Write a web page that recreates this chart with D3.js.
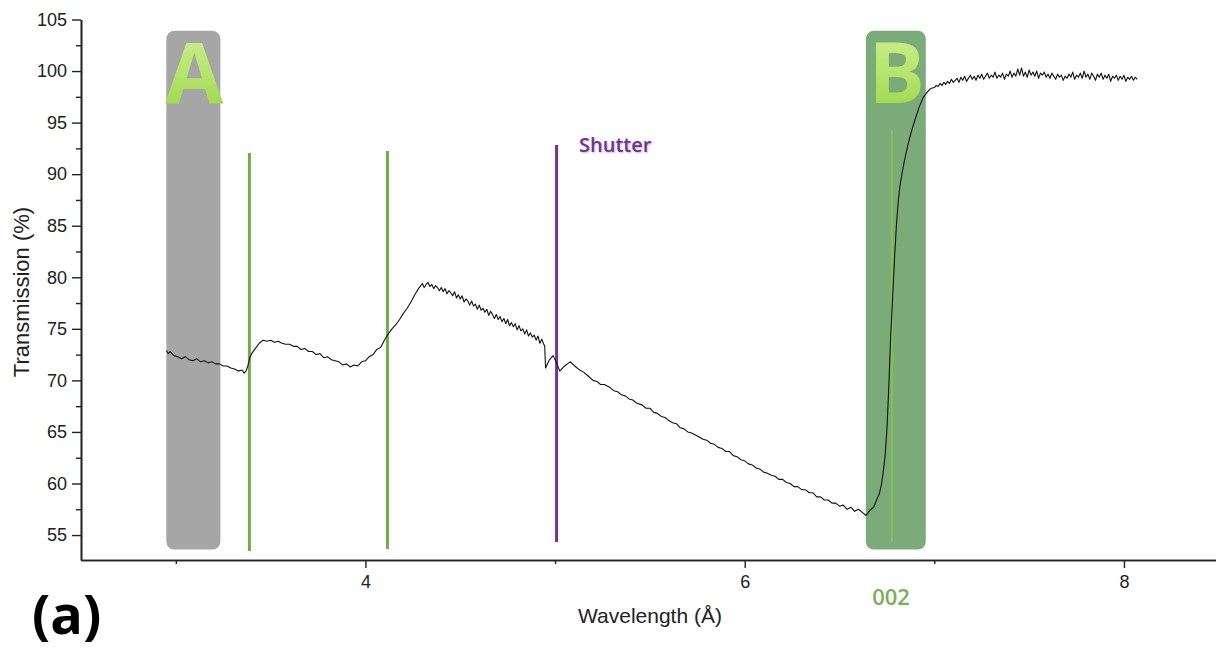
<!DOCTYPE html>
<html>
<head>
<meta charset="utf-8">
<script src="https://cdn.jsdelivr.net/npm/d3@7"></script>
<style>
  body { margin: 0; background: #fff; }
  text { font-family: "Liberation Sans", Arial, sans-serif; }
</style>
</head>
<body>
<div id="chart"></div>
<script>
// transmission spectrum, [wavelength (Å), transmission (%)]
var spectrum = [
  [2.95,72.9],[2.96,72.6],[2.97,72.8],[2.99,72.4],[3.01,72.3],[3.03,72.1],[3.05,72.3],[3.07,72.0],
  [3.09,71.9],[3.11,72.1],[3.13,71.8],[3.15,71.9],[3.17,71.7],[3.19,71.8],[3.21,71.6],[3.23,71.6],
  [3.25,71.4],[3.27,71.4],[3.29,71.2],[3.31,71.1],[3.33,70.9],[3.35,71.0],[3.36,70.7],[3.37,70.9],
  [3.38,71.4],[3.39,72.2],[3.40,72.6],[3.42,73.1],[3.44,73.6],[3.46,73.9],[3.48,73.8],[3.50,73.9],
  [3.52,73.7],[3.54,73.8],[3.56,73.6],[3.58,73.5],[3.60,73.5],[3.62,73.3],[3.64,73.3],[3.66,73.0],
  [3.68,73.1],[3.70,72.8],[3.72,72.8],[3.74,72.5],[3.76,72.6],[3.78,72.2],[3.80,72.3],[3.82,72.0],
  [3.84,71.9],[3.86,71.8],[3.88,71.5],[3.90,71.6],[3.92,71.3],[3.94,71.5],[3.96,71.4],[3.98,71.8],
  [4.00,71.9],[4.02,72.3],[4.04,72.5],[4.06,73.0],[4.08,73.2],[4.10,73.9],[4.12,74.5],[4.14,75.0],
  [4.16,75.4],[4.18,75.9],[4.20,76.5],[4.22,77.0],[4.24,77.6],[4.26,78.3],[4.28,78.9],
  [4.30,79.4],[4.31,79.0],[4.32,79.3],[4.33,79.5],[4.34,79.1],[4.35,79.3],[4.36,78.9],[4.37,79.2],
  [4.38,79.0],[4.39,78.7],[4.40,79.0],[4.41,78.6],[4.42,78.9],[4.43,78.4],[4.44,78.7],[4.45,78.5],
  [4.46,78.2],[4.47,78.6],[4.48,78.0],[4.49,78.3],[4.50,77.9],[4.51,78.2],[4.52,77.6],[4.53,77.9],
  [4.54,77.7],[4.55,77.3],[4.56,77.7],[4.57,77.2],[4.58,77.4],[4.59,76.9],[4.60,77.3],[4.61,76.8],
  [4.62,77.0],[4.63,76.6],[4.64,76.9],[4.65,76.3],[4.66,76.7],[4.67,76.4],[4.68,76.0],[4.69,76.4],
  [4.70,75.9],[4.71,76.2],[4.72,75.7],[4.73,76.0],[4.74,75.5],[4.75,75.9],[4.76,75.3],[4.77,75.6],
  [4.78,75.2],[4.79,75.5],[4.80,74.9],[4.81,75.3],[4.82,74.8],[4.83,75.0],[4.84,74.5],[4.85,74.9],
  [4.86,74.3],[4.87,74.6],[4.88,74.2],[4.89,74.4],[4.90,73.9],[4.91,74.3],[4.92,73.6],[4.93,74.0],
  [4.94,73.5],[4.945,73.4],[4.95,71.2],[4.97,72.0],[4.99,72.4],[5.01,71.6],[5.025,70.9],[5.05,71.4],
  [5.08,71.8],[5.11,71.3],[5.13,71.0],[5.15,70.8],[5.17,70.5],[5.20,70.0],[5.22,69.9],[5.24,69.6],
  [5.26,69.6],[5.29,69.3],[5.31,69.0],[5.33,68.9],[5.35,68.6],[5.37,68.5],[5.39,68.2],[5.41,68.1],
  [5.43,67.8],[5.46,67.6],[5.48,67.3],[5.50,67.3],[5.52,66.9],[5.54,66.8],[5.56,66.5],[5.58,66.4],
  [5.60,66.1],[5.62,65.9],[5.64,65.8],[5.66,65.4],[5.68,65.3],[5.70,65.0],[5.72,64.9],[5.74,64.7],
  [5.76,64.5],[5.78,64.3],[5.80,64.2],[5.82,63.9],[5.84,63.8],[5.86,63.5],[5.88,63.4],[5.90,63.1],
  [5.92,63.1],[5.94,62.7],[5.96,62.6],[5.98,62.3],[6.00,62.2],[6.02,61.9],[6.04,61.8],[6.06,61.5],
  [6.08,61.4],[6.10,61.1],[6.12,61.0],[6.14,60.8],[6.16,60.7],[6.18,60.4],[6.20,60.4],[6.22,60.1],
  [6.24,60.0],[6.26,59.7],[6.28,59.7],[6.30,59.4],[6.32,59.4],[6.34,59.1],[6.36,59.1],[6.38,58.7],
  [6.40,58.7],[6.42,58.4],[6.44,58.4],[6.46,58.1],[6.48,58.1],[6.50,57.8],[6.52,57.9],[6.54,57.5],
  [6.56,57.7],[6.58,57.3],[6.60,57.5],[6.62,57.2],[6.64,56.9],[6.66,57.4],[6.68,57.7],[6.70,58.6],
  [6.71,59.0],[6.72,59.8],[6.73,61.0],[6.74,62.6],[6.75,65.2],[6.76,69.4],[6.77,74.3],[6.78,78.0],
  [6.79,81.8],[6.80,85.0],[6.81,87.4],[6.82,89.0],[6.83,90.1],[6.84,91.1],[6.86,92.8],[6.88,94.2],
  [6.90,95.4],[6.92,96.5],[6.94,97.4],[6.96,97.9],[6.98,98.3],
  [7.00,98.4],[7.01,98.6],[7.02,98.5],[7.03,98.8],[7.04,98.6],[7.05,98.9],[7.06,98.7],[7.07,99.0],
  [7.08,98.8],[7.09,99.2],[7.10,98.9],[7.11,99.1],[7.12,99.3],[7.13,98.9],[7.14,99.4],[7.15,99.1],
  [7.16,99.5],[7.17,99.0],[7.18,99.3],[7.19,99.6],[7.20,99.2],[7.21,99.5],[7.22,99.1],[7.23,99.6],
  [7.24,99.3],[7.25,99.7],[7.26,99.2],[7.27,99.5],[7.28,99.8],[7.29,99.3],[7.30,99.6],[7.31,99.4],
  [7.32,99.9],[7.33,99.3],[7.34,99.6],[7.35,99.4],[7.36,99.8],[7.37,99.2],[7.38,99.7],[7.39,99.5],
  [7.40,100.0],[7.41,99.4],[7.42,99.8],[7.43,99.5],[7.44,100.2],[7.45,99.6],[7.46,100.3],[7.47,99.5],
  [7.48,99.9],[7.49,99.4],[7.50,100.1],[7.51,99.6],[7.52,99.9],[7.53,99.5],[7.54,100.0],[7.55,99.3],
  [7.56,99.8],[7.57,99.6],[7.58,99.9],[7.59,99.4],[7.60,99.7],[7.61,99.3],[7.62,99.8],[7.63,99.5],
  [7.64,99.2],[7.65,99.7],[7.66,99.4],[7.67,99.6],[7.68,99.1],[7.69,99.5],[7.70,99.3],[7.71,99.7],
  [7.72,99.4],[7.73,99.9],[7.74,99.2],[7.75,99.6],[7.76,99.4],[7.77,99.8],[7.78,99.3],[7.79,100.0],
  [7.80,99.4],[7.81,99.7],[7.82,99.2],[7.83,99.8],[7.84,99.5],[7.85,99.1],[7.86,99.7],[7.87,99.4],
  [7.88,99.8],[7.89,99.2],[7.90,99.6],[7.91,99.3],[7.92,99.7],[7.93,99.0],[7.94,99.5],[7.95,99.3],
  [7.96,99.6],[7.97,99.1],[7.98,99.5],[7.99,99.2],[8.00,99.6],[8.01,99.0],[8.02,99.4],[8.03,99.2],
  [8.04,99.5],[8.05,99.1],[8.06,99.4],[8.07,99.2]
];

// highlighted bands: label, wavelength from/to, transmission from/to
var bands = [
  {label: "A", w0: 2.950, w1: 3.235, t0: 53.6, t1: 103.9, fill: "#a6a6a6"},
  {label: "B", w0: 6.639, w1: 6.955, t0: 53.6, t1: 103.9, fill: "#7bab78"}
];

// vertical markers: wavelength, transmission from/to
var markers = [
  {w: 3.388, t0: 53.45, t1: 92.05, kind: "edge"},
  {w: 4.116, t0: 53.64, t1: 92.25, kind: "edge"},
  {w: 5.008, t0: 54.32, t1: 92.83, kind: "shutter"},
  {w: 6.776, t0: 54.32, t1: 94.28, kind: "peak"}
];

var xMajor = [4, 6, 8];
var xMinor = [3, 5, 7];
var yMajor = [55, 60, 65, 70, 75, 80, 85, 90, 95, 100, 105];
var yMinor = [57.5, 62.5, 67.5, 72.5, 77.5, 82.5, 87.5, 92.5, 97.5, 102.5];

var width = 1216, height = 652;

var svg = d3.select("#chart")
  .append("svg")
    .attr("width", width)
    .attr("height", height);

var defs = svg.append("defs");
var grad = defs.append("linearGradient")
    .attr("id", "letterGrad")
    .attr("x1", 0).attr("y1", 0).attr("x2", 0).attr("y2", 1);
grad.append("stop").attr("offset", "0%").attr("stop-color", "#d6f29a");
grad.append("stop").attr("offset", "55%").attr("stop-color", "#b4e46a");
grad.append("stop").attr("offset", "100%").attr("stop-color", "#93d13f");

var x = d3.scaleLinear()
    .domain([2.5, 8.5])
    .range([81, 1218.75]);

var y = d3.scaleLinear()
    .domain([52.58, 105])
    .range([560, 19.5]);

// bands
svg.selectAll("rect.band")
  .data(bands)
  .enter()
  .append("rect")
    .attr("class", "band")
    .attr("x", function(d) { return x(d.w0); })
    .attr("y", function(d) { return y(d.t1); })
    .attr("width", function(d) { return x(d.w1) - x(d.w0); })
    .attr("height", function(d) { return y(d.t0) - y(d.t1); })
    .attr("rx", 8)
    .attr("fill", function(d) { return d.fill; });

svg.selectAll("text.bandLabel")
  .data(bands)
  .enter()
  .append("text")
    .attr("class", "bandLabel")
    .attr("x", function(d) { return (x(d.w0) + x(d.w1)) / 2 + 1; })
    .attr("y", 103)
    .attr("text-anchor", "middle")
    .style("font-family", "'Open Sans', sans-serif")
    .style("font-weight", "bold")
    .style("font-size", "84px")
    .attr("fill", "url(#letterGrad)")
    .text(function(d) { return d.label; });

// marker lines
var markerColor = {edge: "#70ad47", shutter: "#7030a0", peak: "#86c24f"};
var markerWidth = {edge: 3, shutter: 3, peak: 2};
svg.selectAll("line.marker")
  .data(markers)
  .enter()
  .append("line")
    .attr("class", "marker")
    .attr("x1", function(d) { return x(d.w); })
    .attr("x2", function(d) { return x(d.w); })
    .attr("y1", function(d) { return y(d.t1); })
    .attr("y2", function(d) { return y(d.t0); })
    .attr("stroke", function(d) { return markerColor[d.kind]; })
    .attr("stroke-width", function(d) { return markerWidth[d.kind]; });

// spectrum
var line = d3.line()
    .x(function(d) { return x(d[0]); })
    .y(function(d) { return y(d[1]); });

svg.append("path")
    .datum(spectrum)
    .attr("d", line)
    .attr("fill", "none")
    .attr("stroke", "#111")
    .attr("stroke-width", 1.1)
    .attr("stroke-linejoin", "round");

// axes
svg.append("g")
    .attr("transform", "translate(0," + y.range()[0] + ")")
    .call(d3.axisBottom(x).tickValues(xMajor).tickSize(8).tickSizeOuter(0).tickPadding(7).tickFormat(d3.format("d")));
svg.append("g")
    .attr("transform", "translate(0," + y.range()[0] + ")")
    .call(d3.axisBottom(x).tickValues(xMinor).tickSize(4).tickSizeOuter(0).tickFormat(""));

svg.append("g")
    .attr("transform", "translate(" + x.range()[0] + ",0)")
    .call(d3.axisLeft(y).tickValues(yMajor).tickSize(9).tickSizeOuter(0).tickPadding(5));
svg.append("g")
    .attr("transform", "translate(" + x.range()[0] + ",0)")
    .call(d3.axisLeft(y).tickValues(yMinor).tickSize(5).tickSizeOuter(0).tickFormat(""));

svg.selectAll(".domain").attr("stroke", "#222").attr("stroke-width", 1.6);
svg.selectAll(".tick line").attr("stroke", "#222").attr("stroke-width", 1.4);
svg.selectAll(".tick text")
    .attr("fill", "#222")
    .style("font-family", "'Liberation Sans', Arial, sans-serif")
    .style("font-size", "18px");

// axis titles
svg.append("text")
    .attr("x", 650)
    .attr("y", 623)
    .attr("text-anchor", "middle")
    .attr("fill", "#222")
    .style("font-size", "21px")
    .text("Wavelength (Å)");

svg.append("text")
    .attr("transform", "translate(29,292) rotate(-90)")
    .attr("text-anchor", "middle")
    .attr("fill", "#222")
    .style("font-size", "22px")
    .text("Transmission (%)");

// annotations
svg.append("text")
    .attr("x", 579)
    .attr("y", 152)
    .attr("fill", "#7030a0")
    .style("font-family", "'Open Sans', sans-serif")
    .style("font-size", "20px")
    .style("font-weight", 600)
    .style("text-shadow", "1px 1px 2px rgba(0,0,0,0.25)")
    .text("Shutter");

svg.append("text")
    .attr("x", 891)
    .attr("y", 605)
    .attr("text-anchor", "middle")
    .attr("fill", "#77b05a")
    .style("font-family", "'Open Sans', sans-serif")
    .style("font-size", "22px")
    .style("font-weight", 600)
    .text("002");

svg.append("text")
    .attr("x", 32)
    .attr("y", 634)
    .attr("fill", "#000")
    .style("font-family", "'Open Sans', sans-serif")
    .style("font-size", "54px")
    .style("font-weight", "bold")
    .text("(a)");
</script>
</body>
</html>
